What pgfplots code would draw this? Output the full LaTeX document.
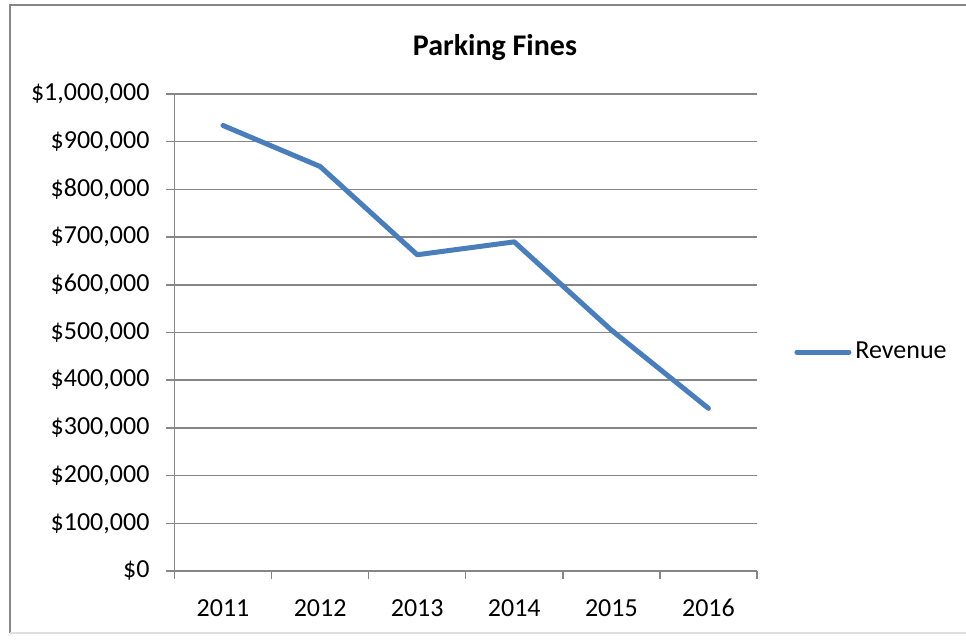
\documentclass[border=0pt]{standalone}
\usepackage{fontspec}
\setmainfont{Carlito}
\usepackage{pgfplots}
\pgfplotsset{compat=1.18}
\definecolor{revblue}{HTML}{4A7EBB}
\definecolor{gridgray}{HTML}{868686}
\begin{document}
\begin{tikzpicture}[x=0.5pt,y=0.5pt]
\useasboundingbox (0,0) rectangle (966,639);
% chart frame
\draw[gridgray, line width=0.75pt] (10,6) -- (10,634) -- (990,634);
\draw[gray!25, line width=0.75pt] (10,6) -- (990,6);
\node[font=\fontsize{15}{18}\selectfont\bfseries] at (495,591) {Parking Fines};
\begin{axis}[
  at={(87.25pt,34pt)}, anchor=south west,
  scale only axis, width=291.25pt, height=238.5pt,
  xmin=0.5, xmax=6.5, ymin=0, ymax=1000000,
  xtick={0.5,1.5,...,6.5}, x tick label as interval,
  xticklabels={2011,2012,2013,2014,2015,2016},
  ytick={0,100000,...,1000000},
  yticklabels={{\$0},{\$100,000},{\$200,000},{\$300,000},{\$400,000},{\$500,000},{\$600,000},{\$700,000},{\$800,000},{\$900,000},{\$1,000,000}},
  scaled y ticks=false,
  axis x line*=bottom, axis y line*=left,
  tick align=outside, major tick length=4pt,
  ymajorgrids, grid style={gridgray, line width=0.75pt},
  axis line style={gridgray, line width=0.75pt},
  tick style={gridgray, line width=0.75pt},
  ticklabel style={font=\fontsize{13}{15}\selectfont},
  yticklabel style={xshift=-5pt},
  xticklabel style={text height=9pt, text depth=0pt, yshift=-6pt},
  /pgf/number format/assume math mode=true,
  clip=false,
  legend style={at={(1.0636,0.459)}, anchor=west, draw=none, fill=none,
    font=\fontsize{13}{15}\selectfont, inner sep=0pt},
  legend cell align=left,
  legend image code/.code={\draw[revblue, line width=2.5pt, line cap=round] (0pt,0pt) -- (26pt,0pt);},
]
\addplot[revblue, line width=2.5pt, line cap=round, line join=round] coordinates {
  (1,934000) (2,848000) (3,663000) (4,690000) (5,505000) (6,341000)
};
\addlegendentry{Revenue}
\end{axis}
\end{tikzpicture}
\end{document}
